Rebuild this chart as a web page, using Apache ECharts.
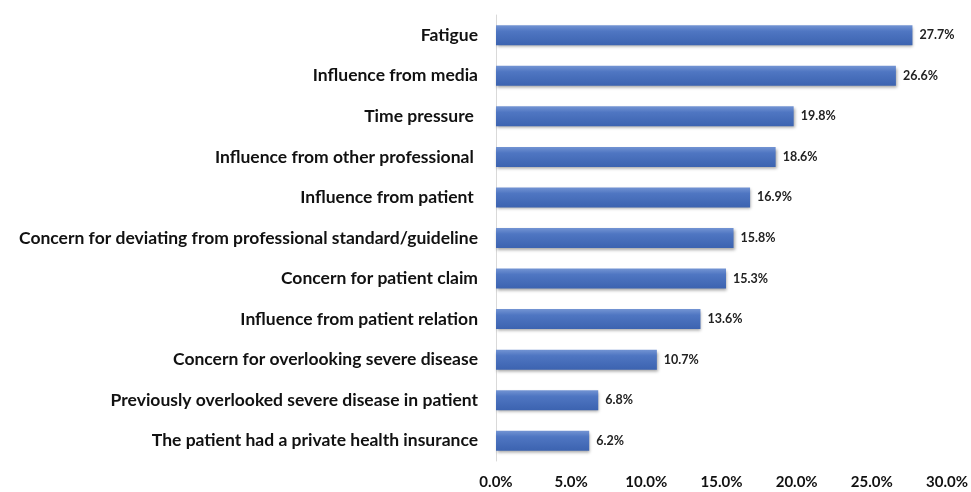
<!DOCTYPE html>
<html>
<head>
<meta charset="utf-8">
<script src="https://cdn.jsdelivr.net/npm/echarts@6/dist/echarts.min.js"></script>
<style>html,body{margin:0;padding:0;background:#fff}#c{width:971px;height:492px}</style>
</head>
<body>
<div id="c"></div>
<script>
const categories = [
  "Fatigue",
  "Influence from media",
  "Time pressure ",
  "Influence from other professional ",
  "Influence from patient ",
  "Concern for deviating from professional standard/guideline",
  "Concern for patient claim",
  "Influence from patient relation",
  "Concern for overlooking severe disease",
  "Previously overlooked severe disease in patient",
  "The patient had a private health insurance"
];
const values = [27.7, 26.6, 19.8, 18.6, 16.9, 15.8, 15.3, 13.6, 10.7, 6.8, 6.2];
const xTicks = { min: 0, max: 30, interval: 5 };

const chart = echarts.init(document.getElementById('c'));
chart.setOption({
  animation: false,
  grid: { left: 496, right: 21, top: 15, bottom: 31 },
  xAxis: {
    type: 'value', min: xTicks.min, max: xTicks.max, interval: xTicks.interval,
    axisLine: { show: false }, axisTick: { show: false }, splitLine: { show: false },
    axisLabel: {
      formatter: v => v.toFixed(1) + '%',
      fontFamily: 'Lato', fontWeight: 'bold', fontSize: 15, color: '#111', margin: 14
    }
  },
  yAxis: {
    type: 'category', data: categories, inverse: true,
    axisLine: { show: true, lineStyle: { color: '#d9d9d9', width: 1 } },
    axisTick: { show: false },
    axisLabel: { fontFamily: 'Lato', fontWeight: 'bold', fontSize: 17.5, color: '#111', margin: 18 }
  },
  series: [{
    type: 'bar', data: values, barWidth: 20,
    itemStyle: {
      color: new echarts.graphic.LinearGradient(0, 0, 0, 1, [
        { offset: 0, color: '#7394d3' },
        { offset: 0.3, color: '#4f76c2' },
        { offset: 1, color: '#3c63b0' }
      ]),
      shadowColor: 'rgba(0,0,0,0.35)', shadowBlur: 3, shadowOffsetY: 2, shadowOffsetX: 1
    },
    label: {
      show: true, position: 'right', distance: 7,
      formatter: p => p.value.toFixed(1) + '%',
      fontFamily: 'Lato', fontWeight: 'bold', fontSize: 12.5, color: '#222'
    }
  }]
});
</script>
</body>
</html>
